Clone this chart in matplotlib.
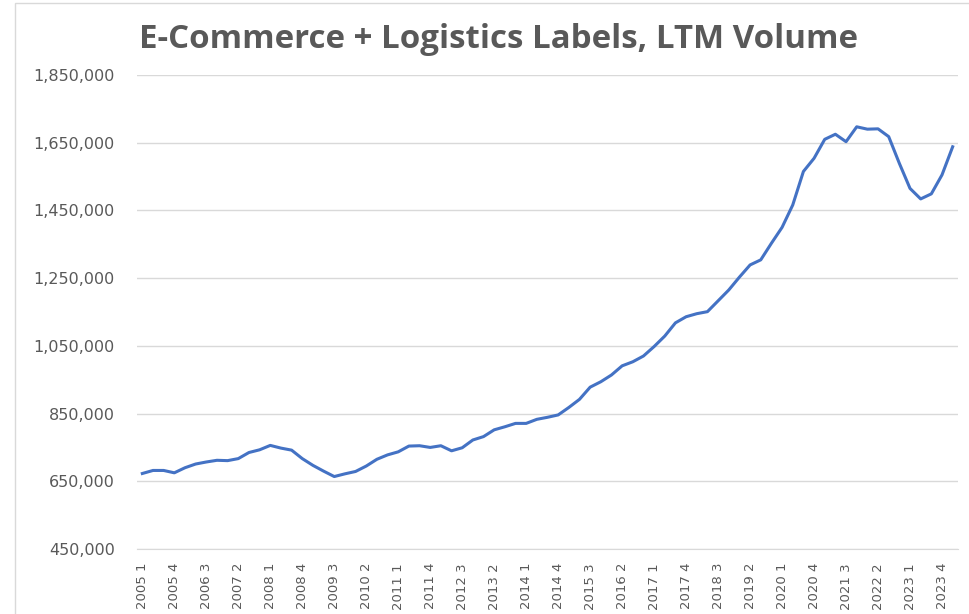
import matplotlib
matplotlib.use("Agg")
import matplotlib.pyplot as plt
from matplotlib.patches import Rectangle
from matplotlib.ticker import FuncFormatter

# quarterly LTM label volume, 2005 Q1 .. 2024 Q1 (thousands)
years = [y for y in range(2005, 2024) for q in range(4)] + [2024]
quarters = [q for y in range(2005, 2024) for q in range(1, 5)] + [1]
volume_k = [
    673, 682, 682, 675, 690, 701, 707, 712, 711, 717,
    735, 743, 756, 748, 742, 717, 697, 680, 664, 672,
    679, 695, 715, 728, 737, 754, 755, 750, 755, 740,
    749, 772, 782, 802, 811, 821, 821, 833, 839, 846,
    868, 892, 928, 944, 964, 991, 1003, 1020, 1048, 1079,
    1118, 1136, 1145, 1151, 1183, 1215, 1253, 1289, 1304, 1353,
    1400, 1466, 1565, 1604, 1660, 1675, 1653, 1697, 1690, 1691,
    1668, 1589, 1515, 1484, 1499, 1555, 1638,
]
volume = [v * 1000 for v in volume_k]
labels = [f"{y} {q}" for y, q in zip(years, quarters)]
y_ticks = [450000, 650000, 850000, 1050000, 1250000, 1450000, 1650000, 1850000]

text_gray = "#595959"
grid_gray = "#D9D9D9"

fig = plt.figure(figsize=(9.69, 6.14), dpi=100)
ax = fig.add_axes([137 / 969, 1 - 549 / 614, (958 - 137) / 969, (549 - 75) / 614])

x = list(range(len(volume)))
ax.plot(x, volume, color="#4472C4", linewidth=2.2, solid_joinstyle="round")

ax.set_xlim(-0.5, len(volume) - 0.5)
ax.set_ylim(450000, 1850000)
ax.set_yticks(y_ticks)
ax.yaxis.set_major_formatter(FuncFormatter(lambda v, p: f"{int(v):,}"))
ax.set_xticks(x[::3])
ax.set_xticklabels(labels[::3], rotation=90)

ax.grid(axis="y", color=grid_gray, linewidth=1.0)
ax.set_axisbelow(True)
for side in ["top", "right", "left"]:
    ax.spines[side].set_visible(False)
ax.spines["bottom"].set_color(grid_gray)
ax.tick_params(axis="y", length=0, pad=16, labelsize=11.5, labelcolor=text_gray)
ax.tick_params(axis="x", length=0, pad=10, labelsize=9.5, labelcolor=text_gray)

fig.text(0.514, 1 - 39 / 614, "E-Commerce + Logistics Labels, LTM Volume",
         ha="center", va="center", fontsize=23.8, fontweight="bold",
         color=text_gray, family="Open Sans")

# light outer chart border
fig.patches.append(Rectangle((15 / 969, -0.1), 1.2, 1.1 - 3 / 614,
                             transform=fig.transFigure, fill=False,
                             edgecolor=grid_gray, linewidth=1.0))

fig.savefig("out.png", dpi=100)
